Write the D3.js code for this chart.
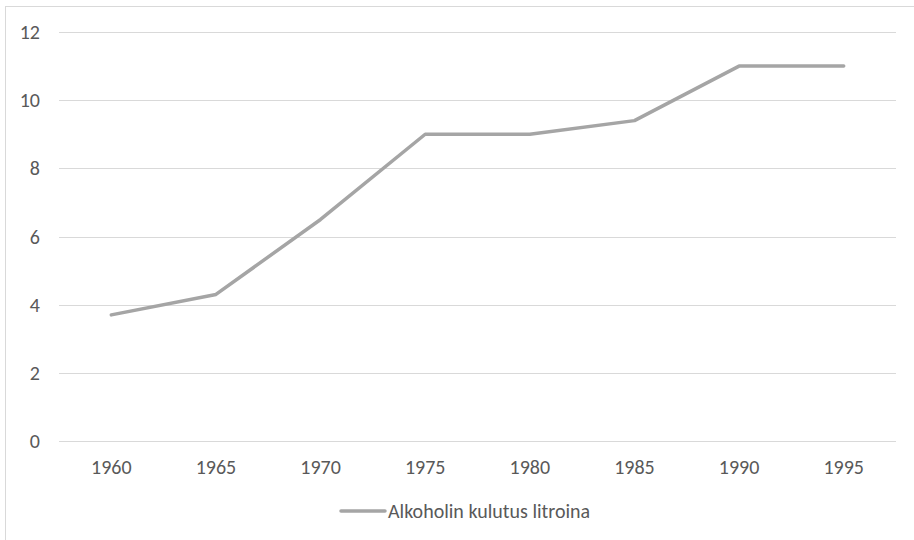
<!DOCTYPE html>
<html><head><meta charset="utf-8">
<script src="https://cdn.jsdelivr.net/npm/d3@7"></script>
<style>body{margin:0;background:#fff}svg{display:block}</style>
</head><body>
<svg id="c" width="914" height="540"></svg>
<script>
const years = ["1960","1965","1970","1975","1980","1985","1990","1995"];
const values = [3.7, 4.3, 6.5, 9, 9, 9.4, 11, 11];
const yTicks = [0, 2, 4, 6, 8, 10, 12];
const seriesName = "Alkoholin kulutus litroina";

(function () {
const svg = d3.select("#c");
const font = "Calibri, Carlito, 'Open Sans', sans-serif";
const txt = "#595959";
const fs = "20px";
svg.append("rect").attr("x",5.5).attr("y",6.5).attr("width",920).attr("height",540)
  .attr("fill","#fff").attr("stroke","#d9d9d9");

const pLeft = 59, pRight = 896, pTop = 32, pBottom = 441;
const x = d3.scaleBand().domain(years).range([pLeft, pRight]);
const y = d3.scaleLinear().domain([0, 12]).range([pBottom, pTop]);

const g = svg.append("g");
g.selectAll("line.grid").data(yTicks).join("line")
  .attr("x1", pLeft).attr("x2", pRight)
  .attr("y1", d => Math.round(y(d)) + 0.5).attr("y2", d => Math.round(y(d)) + 0.5)
  .attr("stroke", "#d9d9d9").attr("stroke-width", 1);

g.selectAll("text.yl").data(yTicks).join("text")
  .attr("x", 40).attr("y", d => y(d)).attr("dy", "0.35em")
  .attr("text-anchor", "end").attr("fill", txt)
  .style("font-family", font).style("font-size", fs).text(d => d);

g.selectAll("text.xl").data(years).join("text")
  .attr("x", d => x(d) + x.bandwidth() / 2).attr("y", 467).attr("dy", "0.35em")
  .attr("text-anchor", "middle").attr("fill", txt)
  .style("font-family", font).style("font-size", fs).text(d => d);

const line = d3.line().x((d, i) => x(years[i]) + x.bandwidth() / 2).y(d => y(d));
g.append("path").datum(values).attr("d", line)
  .attr("fill", "none").attr("stroke", "#a5a5a5").attr("stroke-width", 3.5)
  .attr("stroke-linejoin", "round").attr("stroke-linecap", "round");

const lg = svg.append("g");
lg.append("line").attr("x1", 341).attr("x2", 385).attr("y1", 511).attr("y2", 511)
  .attr("stroke", "#a5a5a5").attr("stroke-width", 3.5).attr("stroke-linecap", "round");
lg.append("text").attr("x", 388).attr("y", 511).attr("dy", "0.35em")
  .attr("fill", txt).style("font-family", font).style("font-size", fs).text(seriesName);
})();
</script>
</body></html>
